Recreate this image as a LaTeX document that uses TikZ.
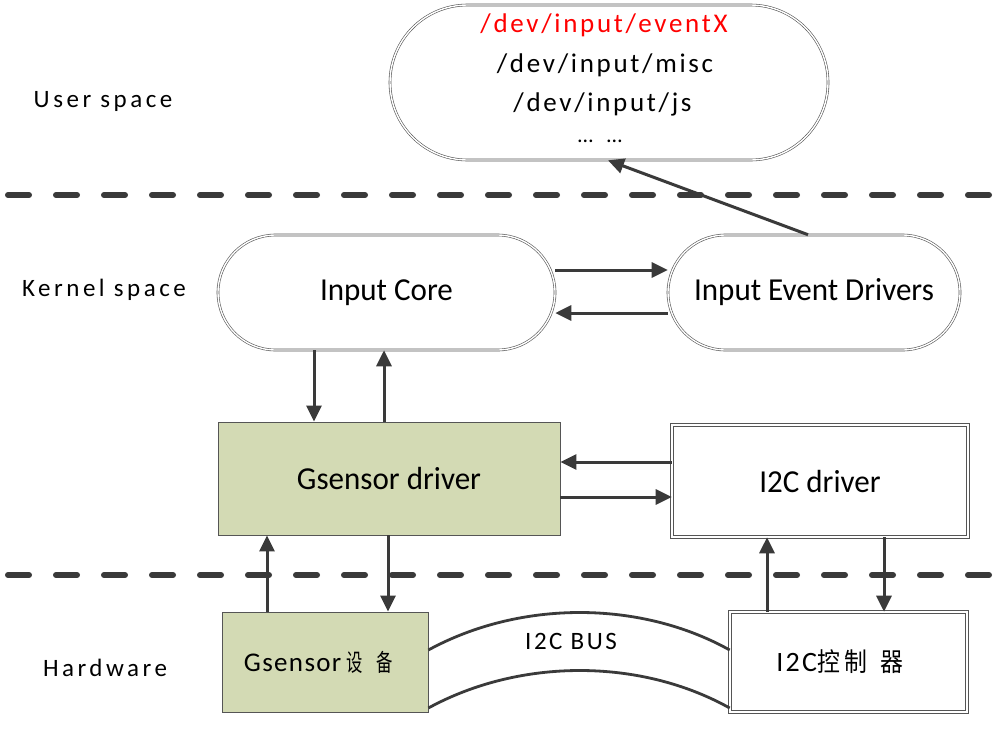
\documentclass[tikz,border=0pt]{standalone}
\usepackage{fontspec}
\setmainfont{Carlito}
\newfontfamily\spaced[LetterSpace=14]{Carlito}
\newfontfamily\devfont[LetterSpace=10]{Carlito}
\newfontfamily\bigfont[FakeStretch=0.97]{Carlito}
\newfontfamily\cjk{Noto Sans CJK SC}
\usetikzlibrary{arrows.meta,shapes.misc}
\definecolor{ln}{HTML}{3A3A3A}
\definecolor{gfill}{HTML}{D3DAB4}
\definecolor{bd}{HTML}{555555}
\tikzset{
  stad/.style={rounded rectangle, draw=bd, line width=0.6pt, double=white, double distance=1.4pt, inner sep=0pt},
  gbox/.style={rectangle, draw=bd, line width=0.8pt, fill=gfill, inner sep=0pt},
  wbox/.style={rectangle, draw=bd, line width=0.6pt, double=white, double distance=2pt, inner sep=0pt},
  arr/.style={draw=ln, line width=3pt, -{Triangle[length=16pt,width=15pt]}},
  bus/.style={draw=ln, line width=2.8pt},
  sep/.style={draw=ln, line width=6pt, line cap=round, dash pattern=on 21pt off 27pt},
  side/.style={font=\spaced\fontsize{25}{28}\selectfont, text=black},
  big/.style={font=\bigfont\fontsize{32}{36}\selectfont, text=black},
  dev/.style={font=\devfont\fontsize{27}{30}\selectfont, text=black, anchor=base, inner sep=0pt}
}
\begin{document}
\begin{tikzpicture}[x=1pt,y=-1pt]
\useasboundingbox (0,0) rectangle (995,731);
\fill[white] (0,0) rectangle (995,731);
% separators
\coordinate (s1a) at (8,195); \coordinate (s1b) at (1000,195);
\coordinate (s2a) at (8,575); \coordinate (s2b) at (1000,575);
\draw[sep] (s1a) -- (s1b);
\draw[sep] (s2a) -- (s2b);
% side labels
\node[side] (us) at (103,101) {User space};
\node[side] (ks) at (104,290) {Kernel space};
\node[side] (hw) at (105,668) {Hardware};
% top device list
\node[stad, minimum width=438pt, minimum height=155pt] (top) at (609,82.5) {};
\node[dev, text=red] (t1) at (604,32) {/dev/input/eventX};
\node[dev] (t2) at (605,72) {/dev/input/misc};
\node[dev] (t3) at (602.5,111) {/dev/input/js};
\node[font=\fontsize{22}{24}\selectfont, anchor=base, inner sep=0pt] (t4) at (600,142) {…\hspace{14pt}…};
% kernel
\node[stad, big, minimum width=337pt, minimum height=115pt] (core) at (386.5,292.5) {Input Core};
\node[stad, big, minimum width=292pt, minimum height=115pt] (ied) at (814,292.5) {Input Event Drivers};
\node[gbox, big, minimum width=342pt, minimum height=113pt] (gsd) at (389,478.5) {Gsensor driver};
\node[wbox, big, minimum width=296pt, minimum height=112pt] (i2cd) at (820,481) {I2C driver};
% hardware
\node[gbox, minimum width=206pt, minimum height=100pt, font=\fontsize{27}{30}\selectfont] (gdev) at (325,662)
  {\addfontfeatures{LetterSpace=5}Gsensor\hspace{5pt}{\cjk\fontsize{24}{28}\selectfont\scalebox{0.68}[1]{设}\hspace{14pt}\scalebox{0.68}[1]{备}}\hspace*{13pt}};
\node[wbox, minimum width=237pt, minimum height=100pt, font=\fontsize{28}{30}\selectfont] (ctrl) at (848.5,662)
  {\addfontfeatures{LetterSpace=8}I2C{\cjk\fontsize{26}{28}\selectfont\scalebox{0.88}[1]{控}\hspace{5pt}\scalebox{0.88}[1]{制}\hspace{13pt}\scalebox{0.88}[1]{器}}\hspace*{17pt}};
\node[font=\devfont\fontsize{25}{28}\selectfont] (bus) at (571,641) {I2C BUS};
% arrows kernel
\draw[arr] (555,270 -| core.east) -- (555,270 -| ied.west);
\draw[arr] (668,313 -| ied.west) -- (668,313 -| core.east);
\draw[arr] (808,0 |- ied.north) -- (608,0 |- top.south);
\draw[arr] (314,0 |- core.south) -- (314,0 |- gsd.north);
\draw[arr] (384,0 |- gsd.north) -- (384,0 |- core.south);
\draw[arr] (672,462 -| i2cd.west) -- (672,462 -| gsd.east);
\draw[arr] (560,497 -| gsd.east) -- (560,497 -| i2cd.west);
% arrows hardware
\draw[arr] (267,0 |- gdev.north) -- (267,0 |- gsd.south);
\draw[arr] (388,0 |- gsd.south) -- (388,0 |- gdev.north);
\draw[arr] (767,0 |- ctrl.north) -- (767,0 |- i2cd.south);
\draw[arr] (884,0 |- i2cd.south) -- (884,0 |- ctrl.north);
% bus
\draw[bus] (428,650 -| gdev.east) .. controls (520,600) and (640,600) .. (730,650 -| ctrl.west);
\draw[bus] (428,708 -| gdev.east) .. controls (520,658) and (640,658) .. (730,708 -| ctrl.west);
\end{tikzpicture}
\end{document}
